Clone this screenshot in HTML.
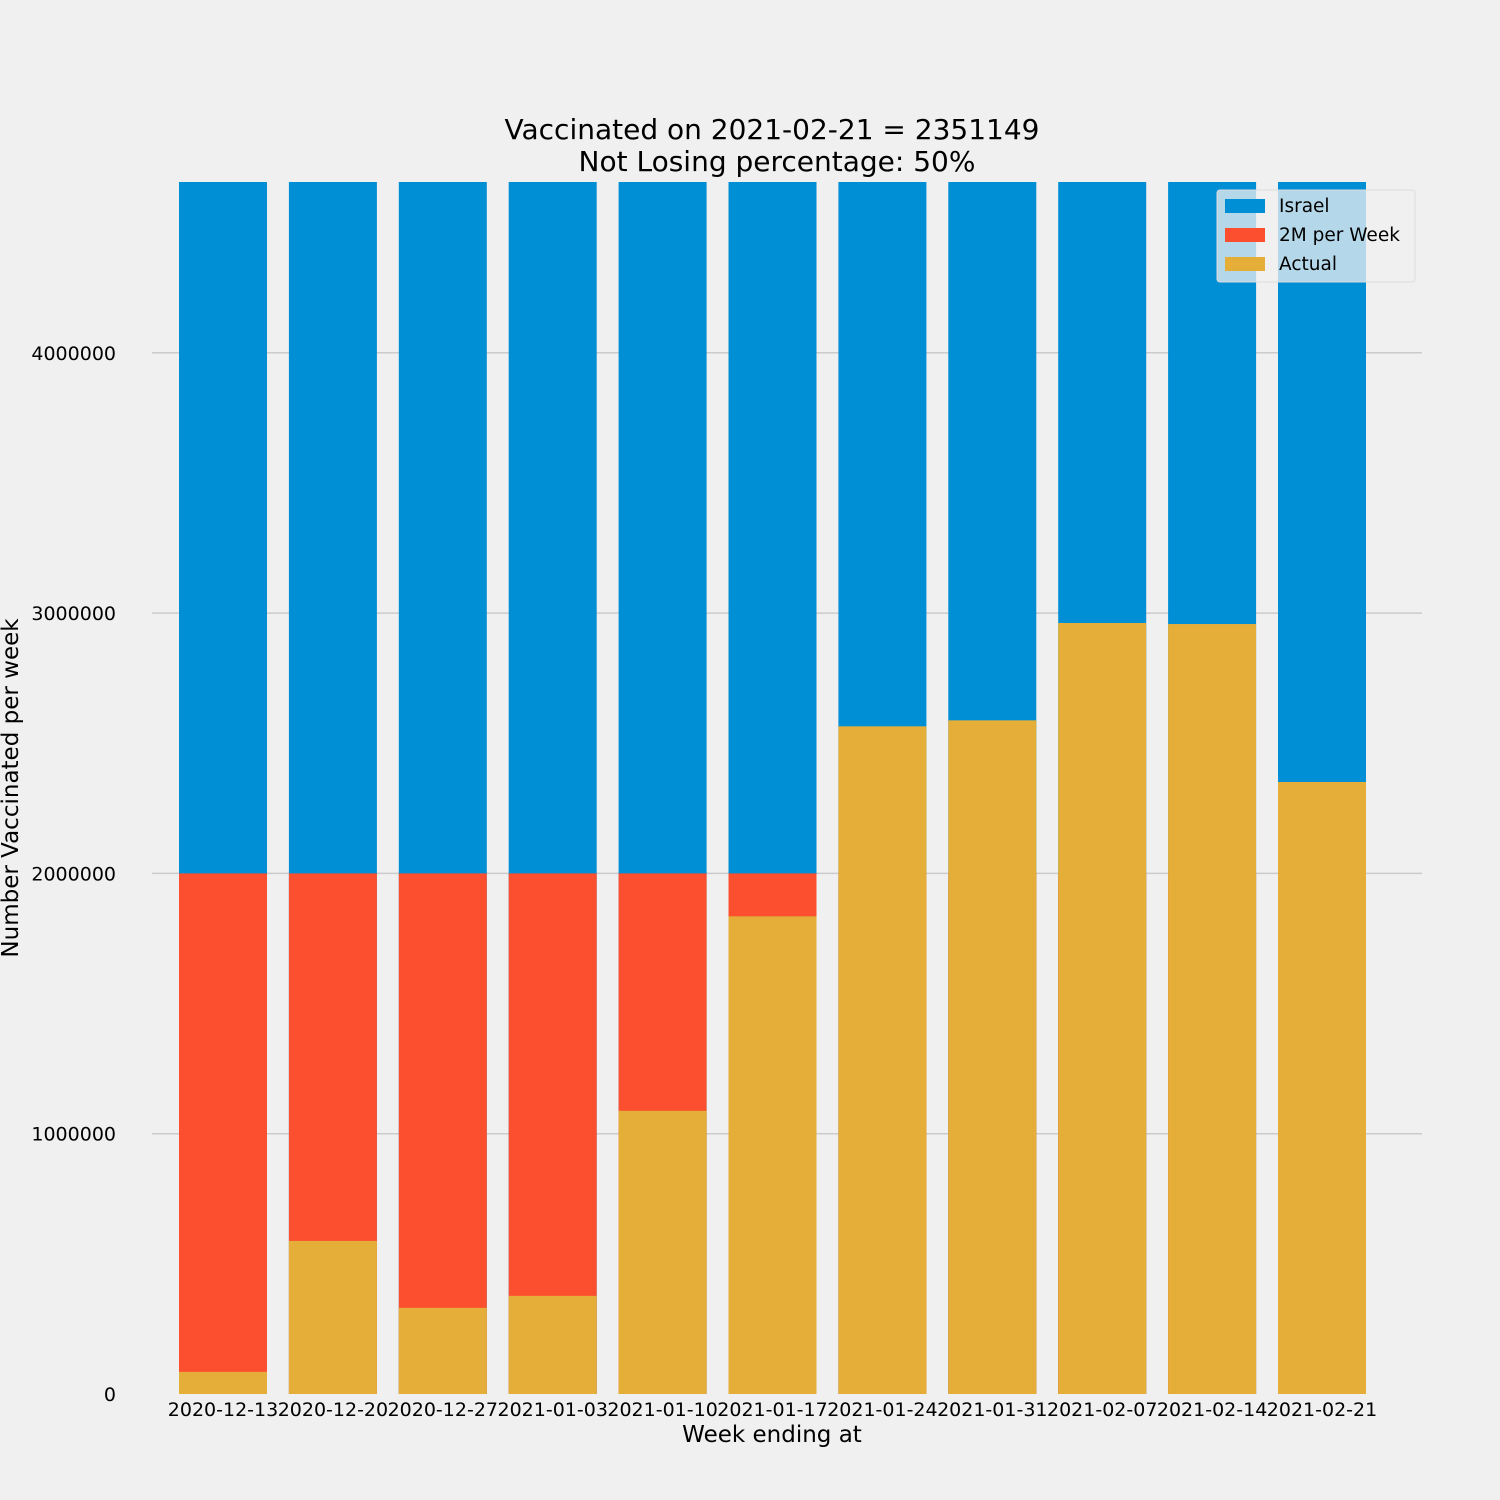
<!DOCTYPE html>
<html><head><meta charset="utf-8"><style>
body{margin:0;background:#f0f0f0;}
svg{display:block;font-family:"DejaVu Sans","Liberation Sans",sans-serif;}
</style></head><body>
<svg id="chart" width="1500" height="1500">
<rect width="1500" height="1500" fill="#f0f0f0"/>
<text x="772" y="139" font-size="28" text-anchor="middle" fill="#000">Vaccinated on 2021-02-21 = 2351149</text>
<text x="777" y="171" font-size="28" text-anchor="middle" fill="#000">Not Losing percentage: 50%</text>
<g id="grid"></g><g id="bars"></g><g id="xt"></g><g id="yt"></g>
<text x="772" y="1442" font-size="23" text-anchor="middle">Week ending at</text>
<text transform="translate(18,788) rotate(-90)" font-size="23" text-anchor="middle">Number Vaccinated per week</text>
<g>
<rect x="1217" y="190" width="198" height="92" rx="3" fill="#f0f0f0" fill-opacity="0.75" stroke="#ddd"/>
<rect x="1225" y="199" width="40" height="14" fill="#008fd5"/>
<text x="1279" y="212" font-size="18.5">Israel</text>
<rect x="1225" y="228" width="40" height="14" fill="#fc4f30"/>
<text x="1279" y="241" font-size="18.5">2M per Week</text>
<rect x="1225" y="257" width="40" height="14" fill="#e5ae38"/>
<text x="1279" y="270" font-size="18.5">Actual</text>
</g>
</svg>
<script>
const categories=["2020-12-13","2020-12-20","2020-12-27","2021-01-03","2021-01-10","2021-01-17","2021-01-24","2021-01-31","2021-02-07","2021-02-14","2021-02-21"];
const israel=[4700000,4700000,4700000,4700000,4700000,4700000,4700000,4700000,4700000,4700000,4700000];
const target=[2000000,2000000,2000000,2000000,2000000,2000000,2000000,2000000,2000000,2000000,2000000];
const actual=[85000,588000,331000,377000,1088000,1835000,2565000,2588000,2962000,2958000,2351149];
const yTicks=[0,1000000,2000000,3000000,4000000];
const NS="http://www.w3.org/2000/svg";
const plotTop=182,plotBot=1394,ymax=(1394-182)/260.3*1e6;
const y=v=>plotBot-Math.min(v,ymax)/ymax*(plotBot-plotTop);
const xc=i=>223+i*109.9;
const bw=88;
function mk(t,a,p){const e=document.createElementNS(NS,t);for(const k in a)e.setAttribute(k,a[k]);document.getElementById(p).appendChild(e);return e;}
yTicks.forEach((v,i)=>{
 if(v>0){const l=mk('line',{x1:152,x2:1422,y1:y(v),y2:y(v),stroke:'#cbcbcb','stroke-width':1.5},'grid');
 
 }
 const t=mk('text',{x:116,y:y(v)+7,'font-size':19,'text-anchor':'end'},'yt');t.textContent=v;
 
 
});
categories.forEach((c,i)=>{
 const series=[[israel,'#008fd5','israel'],[target,'#fc4f30','2m'],[actual,'#e5ae38','actual']];
 series.forEach(([arr,col,n])=>{
  const r=mk('rect',{x:xc(i)-bw/2,y:y(arr[i]),width:bw,height:plotBot-y(arr[i]),fill:col},'bars');
  
  
 });
 const t=mk('text',{x:xc(i),y:1416,'font-size':19,'text-anchor':'middle'},'xt');t.textContent=c;
 
 
});
</script>
</body></html>
